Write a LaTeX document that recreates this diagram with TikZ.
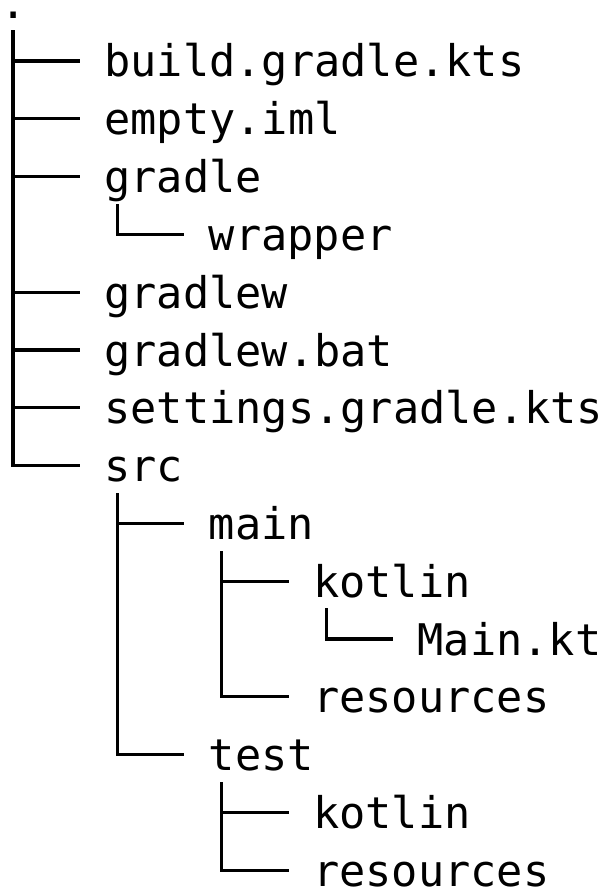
\documentclass[tikz,border=0pt]{standalone}
\usepackage{fontspec}
\setmonofont{DejaVu Sans Mono}
\begin{document}
\begin{tikzpicture}[x=1pt,y=-1pt,
  entryfont/.style={font=\ttfamily\fontsize{43.6}{50}\selectfont},
  entry/.style={entryfont,anchor=west,inner sep=0pt,outer sep=0pt,text height=32pt,text depth=0pt},
  treeline/.style={line width=3.2pt,line cap=rect,line join=miter,black}]
\fill[white] (0,0) rectangle (607,888);
\useasboundingbox (0,0) rectangle (607,888);
% entries: line y = 61 + (i-1)*57.8 ; text col x = depth*4*26.1
\node[entryfont,anchor=base west,inner sep=0pt] (n0) at (0,19) {.};
\node[entry] (n1)  at (104.4,61.0)  {build.gradle.kts};
\node[entry] (n2)  at (104.4,118.8) {empty.iml};
\node[entry] (n3)  at (104.4,176.6) {gradle};
\node[entry] (n4)  at (208.8,234.4) {wrapper};
\node[entry] (n5)  at (104.4,292.2) {gradlew};
\node[entry] (n6)  at (104.4,350.0) {gradlew.bat};
\node[entry] (n7)  at (104.4,407.8) {settings.gradle.kts};
\node[entry] (n8)  at (104.4,465.6) {src};
\node[entry] (n9)  at (208.8,523.4) {main};
\node[entry] (n10) at (313.2,581.2) {kotlin};
\node[entry] (n11) at (417.6,639.0) {Main.kt};
\node[entry] (n12) at (313.2,696.8) {resources};
\node[entry] (n13) at (208.8,754.6) {test};
\node[entry] (n14) at (313.2,812.4) {kotlin};
\node[entry] (n15) at (313.2,870.2) {resources};
% trunk tops
\coordinate (r0) at (13.05,32.0);
\coordinate (r3) at (117.45,205.4);
\coordinate (r8) at (117.45,494.4);
\coordinate (r9) at (221.85,552.2);
\coordinate (r10) at (326.25,610.0);
\coordinate (r13) at (221.85,783.4);
% root
\foreach \c in {n1,n2,n3,n5,n6,n7}
  \draw[treeline] (r0 |- \c.west) -- ([xshift=-26.1pt]\c.west);
\draw[treeline] (r0) |- ([xshift=-26.1pt]n8.west);
% gradle
\draw[treeline] (r3) |- ([xshift=-26.1pt]n4.west);
% src
\draw[treeline] (r8 |- n9.west) -- ([xshift=-26.1pt]n9.west);
\draw[treeline] (r8) |- ([xshift=-26.1pt]n13.west);
% main
\draw[treeline] (r9 |- n10.west) -- ([xshift=-26.1pt]n10.west);
\draw[treeline] (r9) |- ([xshift=-26.1pt]n12.west);
% kotlin
\draw[treeline] (r10) |- ([xshift=-26.1pt]n11.west);
% test
\draw[treeline] (r13 |- n14.west) -- ([xshift=-26.1pt]n14.west);
\draw[treeline] (r13) |- ([xshift=-26.1pt]n15.west);
\end{tikzpicture}
\end{document}
